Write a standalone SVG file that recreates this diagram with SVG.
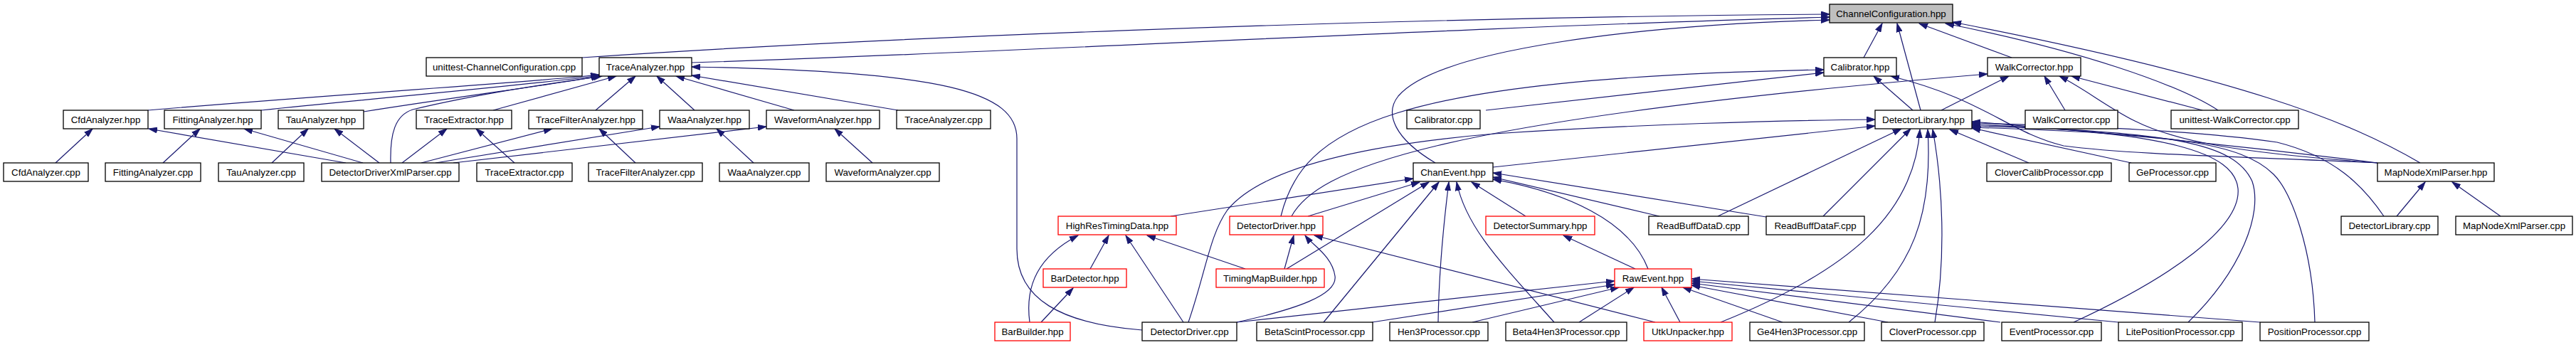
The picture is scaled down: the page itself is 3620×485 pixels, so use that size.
<svg xmlns="http://www.w3.org/2000/svg" width="3620" height="485" viewBox="0 0 3620 485">
<defs>
<style>
.node rect{fill:#ffffff;stroke:#000000;stroke-width:1.3}
.node.red rect{stroke:#ff0000}
.node.root rect{fill:#bfbfbf}
.node text{font-family:"Liberation Sans",Arial,Helvetica,sans-serif;font-size:13.3px;text-anchor:middle;fill:#000000}
#edges path{fill:none;stroke:#191970;stroke-width:1.2;marker-end:url(#arr)}
</style>
<marker id="arr" markerUnits="userSpaceOnUse" markerWidth="13" markerHeight="9" refX="12" refY="4.5" orient="auto">
<path d="M0,0.5 L12,4.5 L0,8.5 Z" fill="#191970" stroke="#191970" stroke-width="1"/>
</marker>
</defs>
<rect x="0" y="0" width="3620" height="485" fill="#ffffff"/>
<g id="edges">
<path d="M78,229 L130,181"/>
<path d="M486,229 L209,181"/>
<path d="M229,229 L281,181"/>
<path d="M510,229 L343,181"/>
<path d="M382,229 L433,181"/>
<path d="M533,229 L470,181"/>
<path d="M723,229 L669,181"/>
<path d="M565,229 L628,181"/>
<path d="M893,229 L842,181"/>
<path d="M592,229 L776,181"/>
<path d="M1059,229 L1007,181"/>
<path d="M612,229 L927,178"/>
<path d="M1226,229 L1173,181"/>
<path d="M637,229 L1077,178"/>
<path d="M208,155 C480,132 770,114 842,105"/>
<path d="M367,155 C560,135 780,116 842,106"/>
<path d="M511,157 C650,135 790,117 843,107"/>
<path d="M549,229 C548,188 555,162 580,154 C680,130 790,115 846,107"/>
<path d="M693,155 L866,107"/>
<path d="M837,155 L893,107"/>
<path d="M976,155 L923,107"/>
<path d="M1116,155 L950,107"/>
<path d="M1262,155 L972,106"/>
<path d="M1605,464 C1490,455 1429,420 1429,350 L1429,195 C1429,130 1330,100 972,94"/>
<path d="M818,81 C1200,55 1900,25 2571,20"/>
<path d="M972,88 C1400,75 2000,40 2571,24"/>
<path d="M2017,229 C1960,195 1945,160 1965,135 C2020,70 2300,35 2571,28"/>
<path d="M2619,81 L2645,33"/>
<path d="M2699,155 L2666,33"/>
<path d="M2827,81 L2697,33"/>
<path d="M3117,155 C3060,118 2920,70 2734,33"/>
<path d="M3401,229 C3300,170 3150,110 2744,31"/>
<path d="M1800,304 C1830,180 1950,110 2563,98"/>
<path d="M2088,155 L2563,102"/>
<path d="M2688,155 L2633,107"/>
<path d="M3341,229 C3150,220 3000,218 2900,205 C2820,185 2790,140 2657,107"/>
<path d="M1815,304 C1850,240 2000,170 2793,104"/>
<path d="M2728,155 L2823,107"/>
<path d="M2902,155 L2873,107"/>
<path d="M3341,229 C3150,215 3060,200 3000,170 C2960,150 2930,125 2894,107"/>
<path d="M3095,155 L2911,107"/>
<path d="M1670,453 C1695,380 1700,330 1725,295 C1770,240 1900,205 2100,188 C2300,175 2500,169 2635,168"/>
<path d="M2098,235 L2635,177"/>
<path d="M2414,304 L2672,181"/>
<path d="M2562,304 L2685,181"/>
<path d="M2418,453 C2600,380 2690,300 2698,182"/>
<path d="M2598,453 C2690,380 2716,300 2709,182"/>
<path d="M2719,453 C2735,360 2730,260 2716,182"/>
<path d="M2851,229 L2740,182"/>
<path d="M2995,229 L2771,180"/>
<path d="M3341,229 C3150,205 2950,185 2771,171"/>
<path d="M2914,453 C3050,390 3150,320 3145,265 C3140,215 3050,185 2771,175"/>
<path d="M3075,453 C3150,380 3180,300 3165,255 C3140,200 3050,185 2771,177"/>
<path d="M3253,453 C3250,350 3220,270 3195,245 C3150,200 3050,188 2771,179"/>
<path d="M3350,304 C3320,260 3280,220 3200,200 C3100,185 2950,178 2771,173"/>
<path d="M3368,304 L3408,256"/>
<path d="M3514,304 L3446,256"/>
<path d="M1645,304 L1986,251"/>
<path d="M1838,304 L1995,256"/>
<path d="M1808,378 L2008,256"/>
<path d="M1860,453 L2022,256"/>
<path d="M2021,453 C2022,380 2028,320 2036,256"/>
<path d="M2184,453 C2110,370 2060,320 2047,256"/>
<path d="M2144,304 L2068,256"/>
<path d="M2316,378 C2290,310 2200,270 2098,252"/>
<path d="M2332,304 L2098,249"/>
<path d="M2482,305 L2098,243"/>
<path d="M1447,453 C1440,400 1460,360 1515,331"/>
<path d="M1532,378 L1558,331"/>
<path d="M1663,453 L1582,331"/>
<path d="M1750,378 L1612,331"/>
<path d="M1463,453 L1508,405"/>
<path d="M1805,378 L1818,331"/>
<path d="M1738,453 C1820,435 1880,415 1876,388 C1872,360 1845,345 1834,331"/>
<path d="M2326,453 L1847,331"/>
<path d="M2298,378 L2197,331"/>
<path d="M1738,453 L2269,395"/>
<path d="M1928,453 L2269,400"/>
<path d="M2069,453 L2275,404"/>
<path d="M2219,453 L2296,404"/>
<path d="M2361,453 L2335,404"/>
<path d="M2505,453 L2365,404"/>
<path d="M2653,453 L2377,401"/>
<path d="M2811,453 L2377,398"/>
<path d="M2977,453 L2377,395"/>
<path d="M3176,453 L2377,392"/>
</g>
<g id="n_ChannelConfiguration_hpp" class="node root"><rect x="2571" y="6" width="173" height="26"/><text x="2657.5" y="23.5">ChannelConfiguration.hpp</text></g>
<g id="n_unittest_ChannelConfiguration_cpp" class="node"><rect x="599" y="81" width="219" height="26"/><text x="708.5" y="98.5">unittest-ChannelConfiguration.cpp</text></g>
<g id="n_TraceAnalyzer_hpp" class="node"><rect x="842" y="81" width="130" height="26"/><text x="907" y="98.5">TraceAnalyzer.hpp</text></g>
<g id="n_Calibrator_hpp" class="node"><rect x="2563" y="81" width="102" height="26"/><text x="2614" y="98.5">Calibrator.hpp</text></g>
<g id="n_WalkCorrector_hpp" class="node"><rect x="2793" y="81" width="131" height="26"/><text x="2858.5" y="98.5">WalkCorrector.hpp</text></g>
<g id="n_CfdAnalyzer_hpp" class="node"><rect x="89" y="155" width="119" height="26"/><text x="148.5" y="172.5">CfdAnalyzer.hpp</text></g>
<g id="n_FittingAnalyzer_hpp" class="node"><rect x="231" y="155" width="136" height="26"/><text x="299" y="172.5">FittingAnalyzer.hpp</text></g>
<g id="n_TauAnalyzer_hpp" class="node"><rect x="391" y="155" width="120" height="26"/><text x="451" y="172.5">TauAnalyzer.hpp</text></g>
<g id="n_TraceExtractor_hpp" class="node"><rect x="585" y="155" width="134" height="26"/><text x="652" y="172.5">TraceExtractor.hpp</text></g>
<g id="n_TraceFilterAnalyzer_hpp" class="node"><rect x="743" y="155" width="160" height="26"/><text x="823" y="172.5">TraceFilterAnalyzer.hpp</text></g>
<g id="n_WaaAnalyzer_hpp" class="node"><rect x="927" y="155" width="126" height="26"/><text x="990" y="172.5">WaaAnalyzer.hpp</text></g>
<g id="n_WaveformAnalyzer_hpp" class="node"><rect x="1077" y="155" width="159" height="26"/><text x="1156.5" y="172.5">WaveformAnalyzer.hpp</text></g>
<g id="n_TraceAnalyzer_cpp" class="node"><rect x="1260" y="155" width="132" height="26"/><text x="1326" y="172.5">TraceAnalyzer.cpp</text></g>
<g id="n_Calibrator_cpp" class="node"><rect x="1977" y="155" width="103" height="26"/><text x="2028.5" y="172.5">Calibrator.cpp</text></g>
<g id="n_DetectorLibrary_hpp" class="node"><rect x="2635" y="155" width="136" height="26"/><text x="2703" y="172.5">DetectorLibrary.hpp</text></g>
<g id="n_WalkCorrector_cpp" class="node"><rect x="2846" y="155" width="130" height="26"/><text x="2911" y="172.5">WalkCorrector.cpp</text></g>
<g id="n_unittest_WalkCorrector_cpp" class="node"><rect x="3051" y="155" width="179" height="26"/><text x="3140.5" y="172.5">unittest-WalkCorrector.cpp</text></g>
<g id="n_CfdAnalyzer_cpp" class="node"><rect x="5" y="229" width="119" height="26"/><text x="64.5" y="246.5">CfdAnalyzer.cpp</text></g>
<g id="n_FittingAnalyzer_cpp" class="node"><rect x="148" y="229" width="134" height="26"/><text x="215" y="246.5">FittingAnalyzer.cpp</text></g>
<g id="n_TauAnalyzer_cpp" class="node"><rect x="307" y="229" width="120" height="26"/><text x="367" y="246.5">TauAnalyzer.cpp</text></g>
<g id="n_DetectorDriverXmlParser_cpp" class="node"><rect x="452" y="229" width="193" height="26"/><text x="548.5" y="246.5">DetectorDriverXmlParser.cpp</text></g>
<g id="n_TraceExtractor_cpp" class="node"><rect x="670" y="229" width="134" height="26"/><text x="737" y="246.5">TraceExtractor.cpp</text></g>
<g id="n_TraceFilterAnalyzer_cpp" class="node"><rect x="827" y="229" width="160" height="26"/><text x="907" y="246.5">TraceFilterAnalyzer.cpp</text></g>
<g id="n_WaaAnalyzer_cpp" class="node"><rect x="1011" y="229" width="126" height="26"/><text x="1074" y="246.5">WaaAnalyzer.cpp</text></g>
<g id="n_WaveformAnalyzer_cpp" class="node"><rect x="1161" y="229" width="159" height="26"/><text x="1240.5" y="246.5">WaveformAnalyzer.cpp</text></g>
<g id="n_ChanEvent_hpp" class="node"><rect x="1986" y="229" width="112" height="26"/><text x="2042" y="246.5">ChanEvent.hpp</text></g>
<g id="n_CloverCalibProcessor_cpp" class="node"><rect x="2792" y="229" width="175" height="26"/><text x="2879.5" y="246.5">CloverCalibProcessor.cpp</text></g>
<g id="n_GeProcessor_cpp" class="node"><rect x="2992" y="229" width="122" height="26"/><text x="3053" y="246.5">GeProcessor.cpp</text></g>
<g id="n_MapNodeXmlParser_hpp" class="node"><rect x="3341" y="229" width="164" height="26"/><text x="3423" y="246.5">MapNodeXmlParser.hpp</text></g>
<g id="n_HighResTimingData_hpp" class="node red"><rect x="1487" y="304" width="166" height="26"/><text x="1570" y="321.5">HighResTimingData.hpp</text></g>
<g id="n_DetectorDriver_hpp" class="node red"><rect x="1728" y="304" width="131" height="26"/><text x="1793.5" y="321.5">DetectorDriver.hpp</text></g>
<g id="n_DetectorSummary_hpp" class="node red"><rect x="2088" y="304" width="153" height="26"/><text x="2164.5" y="321.5">DetectorSummary.hpp</text></g>
<g id="n_ReadBuffDataD_cpp" class="node"><rect x="2317" y="304" width="140" height="26"/><text x="2387" y="321.5">ReadBuffDataD.cpp</text></g>
<g id="n_ReadBuffDataF_cpp" class="node"><rect x="2482" y="304" width="138" height="26"/><text x="2551" y="321.5">ReadBuffDataF.cpp</text></g>
<g id="n_DetectorLibrary_cpp" class="node"><rect x="3290" y="304" width="136" height="26"/><text x="3358" y="321.5">DetectorLibrary.cpp</text></g>
<g id="n_MapNodeXmlParser_cpp" class="node"><rect x="3451" y="304" width="164" height="26"/><text x="3533" y="321.5">MapNodeXmlParser.cpp</text></g>
<g id="n_BarDetector_hpp" class="node red"><rect x="1466" y="378" width="117" height="26"/><text x="1524.5" y="395.5">BarDetector.hpp</text></g>
<g id="n_TimingMapBuilder_hpp" class="node red"><rect x="1709" y="378" width="152" height="26"/><text x="1785" y="395.5">TimingMapBuilder.hpp</text></g>
<g id="n_RawEvent_hpp" class="node red"><rect x="2269" y="378" width="108" height="26"/><text x="2323" y="395.5">RawEvent.hpp</text></g>
<g id="n_BarBuilder_hpp" class="node red"><rect x="1398" y="453" width="106" height="26"/><text x="1451" y="470.5">BarBuilder.hpp</text></g>
<g id="n_DetectorDriver_cpp" class="node"><rect x="1605" y="453" width="133" height="26"/><text x="1671.5" y="470.5">DetectorDriver.cpp</text></g>
<g id="n_BetaScintProcessor_cpp" class="node"><rect x="1766" y="453" width="163" height="26"/><text x="1847.5" y="470.5">BetaScintProcessor.cpp</text></g>
<g id="n_Hen3Processor_cpp" class="node"><rect x="1953" y="453" width="138" height="26"/><text x="2022" y="470.5">Hen3Processor.cpp</text></g>
<g id="n_Beta4Hen3Processor_cpp" class="node"><rect x="2116" y="453" width="170" height="26"/><text x="2201" y="470.5">Beta4Hen3Processor.cpp</text></g>
<g id="n_UtkUnpacker_hpp" class="node red"><rect x="2310" y="453" width="124" height="26"/><text x="2372" y="470.5">UtkUnpacker.hpp</text></g>
<g id="n_Ge4Hen3Processor_cpp" class="node"><rect x="2459" y="453" width="161" height="26"/><text x="2539.5" y="470.5">Ge4Hen3Processor.cpp</text></g>
<g id="n_CloverProcessor_cpp" class="node"><rect x="2644" y="453" width="144" height="26"/><text x="2716" y="470.5">CloverProcessor.cpp</text></g>
<g id="n_EventProcessor_cpp" class="node"><rect x="2813" y="453" width="140" height="26"/><text x="2883" y="470.5">EventProcessor.cpp</text></g>
<g id="n_LitePositionProcessor_cpp" class="node"><rect x="2977" y="453" width="174" height="26"/><text x="3064" y="470.5">LitePositionProcessor.cpp</text></g>
<g id="n_PositionProcessor_cpp" class="node"><rect x="3176" y="453" width="153" height="26"/><text x="3252.5" y="470.5">PositionProcessor.cpp</text></g>
</svg>
